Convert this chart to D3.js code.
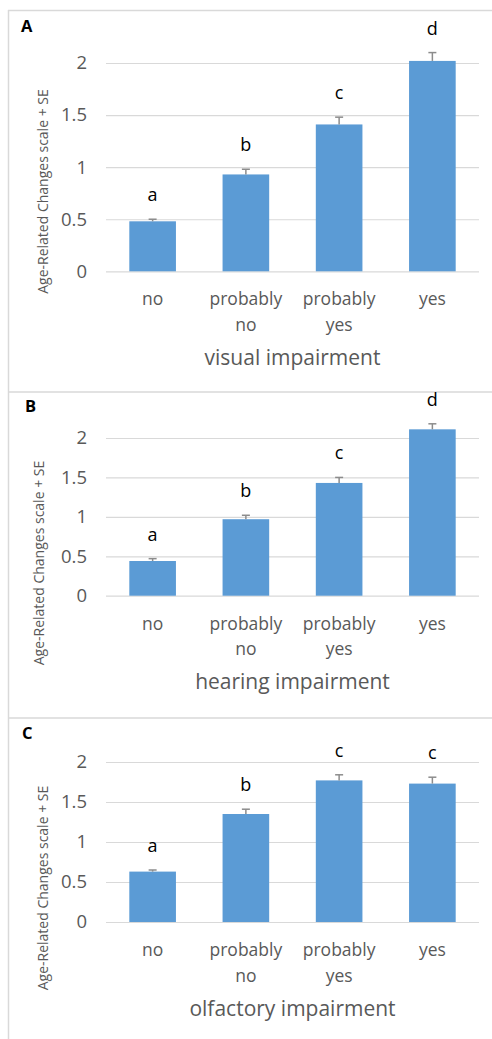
<!DOCTYPE html>
<html>
<head>
<meta charset="utf-8">
<script src="https://cdn.jsdelivr.net/npm/d3@7"></script>
<style>
  body { margin: 0; background: #fff; }
  svg { display: block; font-family: "Open Sans", "Noto Sans", sans-serif; }
</style>
</head>
<body>
<div id="chart"></div>
<script>
// values
const categories = ["no", "probably no", "probably yes", "yes"]
const yTicks = [0, 0.5, 1, 1.5, 2]

const visualMeans = [0.48, 0.93, 1.41, 2.02]
const visualSE = [0.02, 0.05, 0.07, 0.08]
const visualLetters = ["a", "b", "c", "d"]

const hearingMeans = [0.44, 0.97, 1.43, 2.11]
const hearingSE = [0.03, 0.05, 0.07, 0.07]
const hearingLetters = ["a", "b", "c", "d"]

const olfactoryMeans = [0.63, 1.35, 1.77, 1.73]
const olfactorySE = [0.02, 0.06, 0.07, 0.08]
const olfactoryLetters = ["a", "b", "c", "c"]

const W = 492, H = 1039
const left = 106, right = 479

// panel layout: where the 0 and 2 gridlines sit
const panels = [
  { tag: "A", title: "visual impairment", means: visualMeans, se: visualSE, letters: visualLetters,
    y0: 271.3, y2: 63, tagX: 21, tagY: 32, ytX: 43 , ytY: 191.5 },
  { tag: "B", title: "hearing impairment", means: hearingMeans, se: hearingSE, letters: hearingLetters,
    y0: 595.7, y2: 438, tagX: 25, tagY: 412, ytX: 39.3, ytY: 563 },
  { tag: "C", title: "olfactory impairment", means: olfactoryMeans, se: olfactorySE, letters: olfactoryLetters,
    y0: 922, y2: 762, tagX: 22, tagY: 738.5, ytX: 43, ytY: 888 }
]

const svg = d3.select("#chart")
  .append("svg")
    .attr("width", W)
    .attr("height", H)

// frame lines
const frame = "#d9d9d9"
svg.append("line").attr("x1", 8.5).attr("x2", 8.5).attr("y1", 10).attr("y2", H)
  .attr("stroke", frame).attr("stroke-width", 1.5)
;[10.5, 392, 718].forEach(yy => {
  svg.append("line").attr("x1", 8).attr("x2", W).attr("y1", yy).attr("y2", yy)
    .attr("stroke", frame).attr("stroke-width", 1.5)
})

const x = d3.scaleBand()
  .domain(categories)
  .range([left, right])
  .paddingInner(0.5)
  .paddingOuter(0.25)

panels.forEach(p => {
  const y = d3.scaleLinear().domain([0, 2]).range([p.y0, p.y2])
  const g = svg.append("g")

  // gridlines + tick labels
  const yAxis = g.append("g")
    .attr("transform", `translate(${left},0)`)
    .call(d3.axisLeft(y).tickValues(yTicks).tickSize(-(right - left)).tickPadding(19)
      .tickFormat(d => d))
  yAxis.select(".domain").remove()
  yAxis.selectAll(".tick line").attr("stroke", "#d9d9d9").attr("stroke-width", 1.2)
  yAxis.selectAll(".tick text")
    .attr("fill", "#595959")
    .attr("font-size", 18.5)
    .attr("font-family", "Open Sans, sans-serif")

  const rows = categories.map((c, i) => ({ cat: c, mean: p.means[i], se: p.se[i], letter: p.letters[i] }))

  // bars
  g.selectAll("rect")
    .data(rows)
    .enter()
    .append("rect")
      .attr("x", d => x(d.cat))
      .attr("y", d => y(d.mean))
      .attr("width", x.bandwidth())
      .attr("height", d => y(0) - y(d.mean))
      .attr("fill", "#5b9bd5")

  // upper error bars
  const eb = g.selectAll(".err")
    .data(rows)
    .enter()
    .append("g")
      .attr("class", "err")
      .attr("transform", d => `translate(${x(d.cat) + x.bandwidth() / 2},0)`)
  eb.append("line")
    .attr("y1", d => y(d.mean)).attr("y2", d => y(d.mean + d.se))
    .attr("stroke", "#8c8c8c").attr("stroke-width", 1.5)
  eb.append("line")
    .attr("x1", -4).attr("x2", 4)
    .attr("y1", d => y(d.mean + d.se)).attr("y2", d => y(d.mean + d.se))
    .attr("stroke", "#8c8c8c").attr("stroke-width", 1.5)

  // significance letters
  g.selectAll(".letter")
    .data(rows)
    .enter()
    .append("text")
      .attr("class", "letter")
      .attr("x", d => x(d.cat) + x.bandwidth() / 2)
      .attr("y", d => y(d.mean + d.se) - 18)
      .attr("text-anchor", "middle")
      .attr("font-size", 18)
      .attr("fill", "#000")
      .text(d => d.letter)

  // category labels, split on two lines
  const cl = g.selectAll(".cat")
    .data(categories)
    .enter()
    .append("text")
      .attr("class", "cat")
      .attr("text-anchor", "middle")
      .attr("font-size", 17.5)
      .attr("fill", "#595959")
  cl.selectAll("tspan")
    .data(d => d.split(" ").map(w => ({ w: w, cat: d })))
    .enter()
    .append("tspan")
      .attr("x", d => x(d.cat) + x.bandwidth() / 2)
      .attr("y", (d, i) => p.y0 + 34 + i * 25.5)
      .text(d => d.w)

  // x title
  g.append("text")
    .attr("x", (left + right) / 2)
    .attr("y", p.y0 + 93.5)
    .attr("text-anchor", "middle")
    .attr("font-size", 21)
    .attr("fill", "#595959")
    .text(p.title)

  // y title
  g.append("text")
    .attr("transform", `translate(${p.ytX},${p.ytY}) rotate(-90)`)
    .attr("text-anchor", "middle")
    .attr("dy", "0.35em")
    .attr("font-size", 14)
    .attr("fill", "#595959")
    .text("Age-Related Changes scale + SE")

  // panel tag
  g.append("text")
    .attr("x", p.tagX)
    .attr("y", p.tagY)
    .attr("font-size", 16.5)
    .attr("font-weight", "bold")
    .attr("fill", "#000")
    .text(p.tag)
})
</script>
</body>
</html>
